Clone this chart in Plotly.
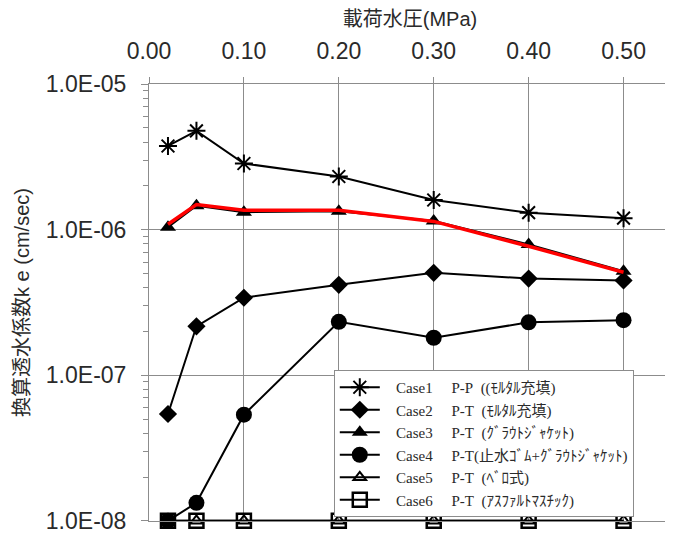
import plotly.graph_objects as go

# Data
pressure = [0.02, 0.05, 0.10, 0.20, 0.30, 0.40, 0.50]
case1 = [3.76e-6, 4.78e-6, 2.85e-6, 2.32e-6, 1.60e-6, 1.31e-6, 1.20e-6]
case2 = [5.42e-8, 2.17e-7, 3.41e-7, 4.18e-7, 5.06e-7, 4.62e-7, 4.48e-7]
case3 = [1.04e-6, 1.46e-6, 1.32e-6, 1.34e-6, 1.15e-6, 7.92e-7, 5.19e-7]
case4 = [1.0e-8, 1.33e-8, 5.36e-8, 2.33e-7, 1.81e-7, 2.31e-7, 2.39e-7]
case5 = [1.0e-8, 1.0e-8, 1.0e-8, 1.0e-8, 1.0e-8, 1.0e-8, 1.0e-8]
case6 = [1.0e-8, 1.0e-8, 1.0e-8, 1.0e-8, 1.0e-8, 1.0e-8, 1.0e-8]
red_line = [1.09e-6, 1.49e-6, 1.36e-6, 1.36e-6, 1.14e-6, 7.7e-7, 5.1e-7]

S = "\u00a0"
case_labels = ["Case1", "Case2", "Case3", "Case4", "Case5", "Case6"]
type_labels = ["P-P" + S * 2 + "((ﾓﾙﾀﾙ充填)",
               "P-T" + S * 2 + "(ﾓﾙﾀﾙ充填)",
               "P-T" + S * 2 + "(ｸﾞﾗｳﾄｼﾞｬｹｯﾄ)",
               "P-T(止水ｺﾞﾑ+ｸﾞﾗｳﾄｼﾞｬｹｯﾄ)",
               "P-T" + S * 2 + "(ﾍﾞﾛ式)",
               "P-T" + S * 2 + "(ｱｽﾌｧﾙﾄﾏｽﾁｯｸ)"]
x_ticks = [0.0, 0.1, 0.2, 0.3, 0.4, 0.5]
x_ticktext = ["0.00", "0.10", "0.20", "0.30", "0.40", "0.50"]
y_ticks = [1e-8, 1e-7, 1e-6, 1e-5]
y_ticktext = ["1.0E-08", "1.0E-07", "1.0E-06", "1.0E-05"]
y_minor = [m * 10.0 ** e for e in (-8, -7, -6) for m in range(2, 10)]

series = [case1, case2, case3, case4, case5, case6]
styles = [
    dict(symbol="asterisk-open", size=15, color="black", line=dict(width=2, color="black")),
    dict(symbol="diamond", size=14, color="black", line=dict(width=0)),
    dict(symbol="triangle-up", size=14, color="black", line=dict(width=0)),
    dict(symbol="circle", size=16, color="black", line=dict(width=0)),
    dict(symbol="triangle-up-open", size=11, color="black", line=dict(width=2, color="black")),
    dict(symbol="square-open", size=14, color="black", line=dict(width=2.5, color="black")),
]

fig = go.Figure()
for i, (vals, cl, tl, st) in enumerate(zip(series, case_labels, type_labels, styles)):
    fig.add_trace(go.Scatter(
        x=pressure, y=vals, name=S * 3 + cl + S * 5 + tl, mode="lines+markers",
        line=dict(color="black", width=2), marker=st,
        legendgroup=f"g{i}", cliponaxis=False,
    ))

fig.add_trace(go.Scatter(
    x=pressure, y=red_line, mode="lines", showlegend=False,
    line=dict(color="#ff0000", width=3.5), cliponaxis=False,
))

grid = "#8c8c8c"
txt = "#2a2a2a"
tickfont = dict(family="Liberation Sans, Arial, Noto Sans CJK JP", size=23, color=txt)
titlefont = dict(family="Liberation Sans, Noto Sans CJK JP", size=20, color=txt)
# page body has an 8px default margin, so the figure is sized to fit the window
fig.update_layout(
    width=665, height=526,
    margin=dict(l=141, r=2, t=76, b=13, autoexpand=False),
    paper_bgcolor="white", plot_bgcolor="white",
    showlegend=True,
    legend=dict(
        x=0.354, y=0.3455, xanchor="left", yanchor="top",
        bgcolor="white", bordercolor=grid, borderwidth=1,
        font=dict(family="Liberation Serif, Noto Sans CJK JP", size=15, color=txt),
        tracegroupgap=0, itemwidth=40,
    ),
    xaxis=dict(
        side="top", range=[0, 0.55], tickvals=x_ticks, ticktext=x_ticktext,
        ticks="outside", ticklen=6, tickcolor=grid, ticklabelstandoff=9,
        showgrid=True, gridcolor=grid, gridwidth=1,
        showline=True, linecolor=grid, linewidth=1, mirror=True,
        zeroline=False, tickfont=tickfont, automargin=False,
        title=dict(text="載荷水圧(MPa)", standoff=10, font=titlefont),
    ),
    yaxis=dict(
        type="log", range=[-8.001, -4.999], tickvals=y_ticks, ticktext=y_ticktext,
        ticks="outside", ticklen=7, tickcolor=grid,
        minor=dict(ticks="outside", ticklen=5, tickcolor=grid, showgrid=False, tickvals=y_minor),
        showgrid=True, gridcolor=grid, gridwidth=1,
        showline=True, linecolor=grid, linewidth=1, mirror=True,
        zeroline=False, tickfont=tickfont, ticklabelstandoff=10, automargin=False,
        title=dict(text="換算透水係数k e (cm/sec)", standoff=10, font=titlefont),
    ),
)

fig.write_html("out.html")
